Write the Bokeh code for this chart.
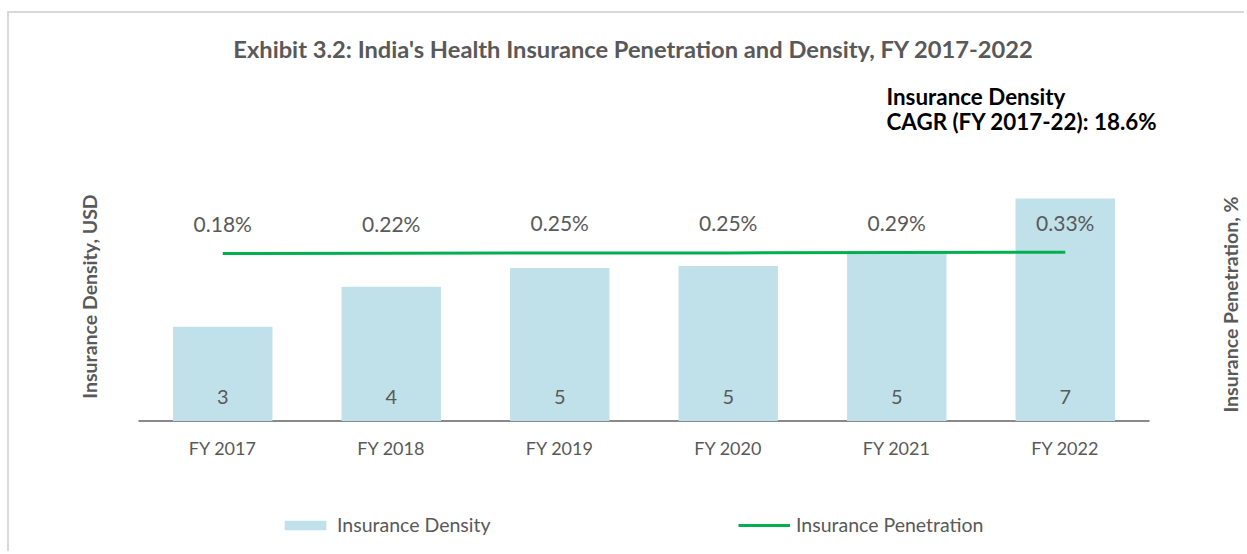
import math
from bokeh.plotting import figure
from bokeh.models import (ColumnDataSource, Range1d, Label, LabelSet,
                          Legend, LegendItem, FactorRange)
from bokeh.core.properties import value
from bokeh.embed import file_html
from bokeh.resources import INLINE

# ---- data ----
years = ["FY 2017", "FY 2018", "FY 2019", "FY 2020", "FY 2021", "FY 2022"]
density_usd = [2.96, 4.22, 4.81, 4.87, 5.32, 7.00]
penetration_pct = [0.18, 0.22, 0.25, 0.25, 0.29, 0.33]
title_text = "Exhibit 3.2: India's Health Insurance Penetration and Density, FY 2017-2022"
note_line1 = "Insurance Density"
note_line2 = "CAGR (FY 2017-22): 18.6%"
left_title = "Insurance Density, USD"
right_title = "Insurance Penetration, %"

FONT = "Lato"
GREY = "#595959"
BAR = "#C0E1EA"
GREEN = "#00B050"
AXIS = "#898989"

src = ColumnDataSource(dict(
    x=years,
    d=density_usd,
    p=penetration_pct,
    dlab=[str(int(round(v))) for v in density_usd],
    plab=["%.2f%%" % v for v in penetration_pct],
    zero=[0] * len(years),
))

W, H = 1237, 540
xr = FactorRange(*years, range_padding=0.5757, range_padding_units="absolute")
p = figure(width=W, height=H, x_range=xr, y_range=Range1d(-4.167, 12.814),
           x_axis_location=None, y_axis_location=None,
           output_backend="svg", toolbar_location=None,
           min_border_left=32, min_border_right=0, min_border_top=0, min_border_bottom=0)
p.styles = {"border-top": "2px solid #d9d9d9", "border-left": "2px solid #d9d9d9",
            "margin-left": "7px", "margin-top": "11px"}
p.outline_line_color = None
p.grid.visible = False
p.background_fill_color = "white"
p.border_fill_color = "white"
p.extra_y_ranges = {"pen": Range1d(-34.42, 27.86)}

# category axis line (from first to last category edge) and tick labels
p.segment(x0=[(years[0], -0.5)], x1=[(years[-1], 0.5)], y0=[0], y1=[0],
          line_color=AXIS, line_width=2)
p.add_layout(LabelSet(x="x", y="zero", text="x", source=src, y_offset=-27.5,
                      text_align="center", text_baseline="middle",
                      text_font=value(FONT), text_font_size="18px", text_color=GREY))

bars = p.vbar(x="x", top="d", width=0.59, source=src, fill_color=BAR, line_color=None)
line = p.line(x="x", y="p", source=src, line_color=GREEN, line_width=3, y_range_name="pen")

p.add_layout(LabelSet(x="x", y="zero", text="dlab", source=src, y_offset=24,
                      text_align="center", text_baseline="middle",
                      text_font=value(FONT), text_font_size="20px", text_color=GREY))
p.add_layout(LabelSet(x="x", y="p", text="plab", source=src, y_offset=30, y_range_name="pen",
                      text_align="center", text_baseline="middle",
                      text_font=value(FONT), text_font_size="21px", text_color=GREY))

def lab(text, x, y, size, color=GREY, bold=True, align="left", angle=0.0):
    p.add_layout(Label(x=x, y=y, x_units="screen", y_units="screen", text=text,
                       text_font=FONT, text_font_size=size, text_color=color,
                       text_font_style="bold" if bold else "normal",
                       text_align=align, text_baseline="middle", angle=angle))

lab(title_text, 592, 505, "23.7px", align="center")
lab(note_line1, 845, 457, "22.4px", color="#000000")
lab(note_line2, 845, 432, "22.4px", color="#000000")
lab(left_title, 48, 257, "19.5px", align="center", angle=math.pi / 2)
lab(right_title, 1189, 249, "19.5px", align="center", angle=math.pi / 2)

def leg(renderer, text, x):
    lg = Legend(items=[LegendItem(label=text, renderers=[renderer])],
                location=(x, 17), orientation="horizontal",
                glyph_width=52, glyph_height=12, label_standoff=6,
                padding=0, margin=0, border_line_color=None, background_fill_alpha=0,
                label_text_font=FONT, label_text_font_size="19.5px", label_text_color=GREY)
    p.add_layout(lg, "center")

leg(bars, "Insurance Density", 238)
leg(line, "Insurance Penetration", 697)

open("out.html", "w").write(file_html(p, INLINE))
